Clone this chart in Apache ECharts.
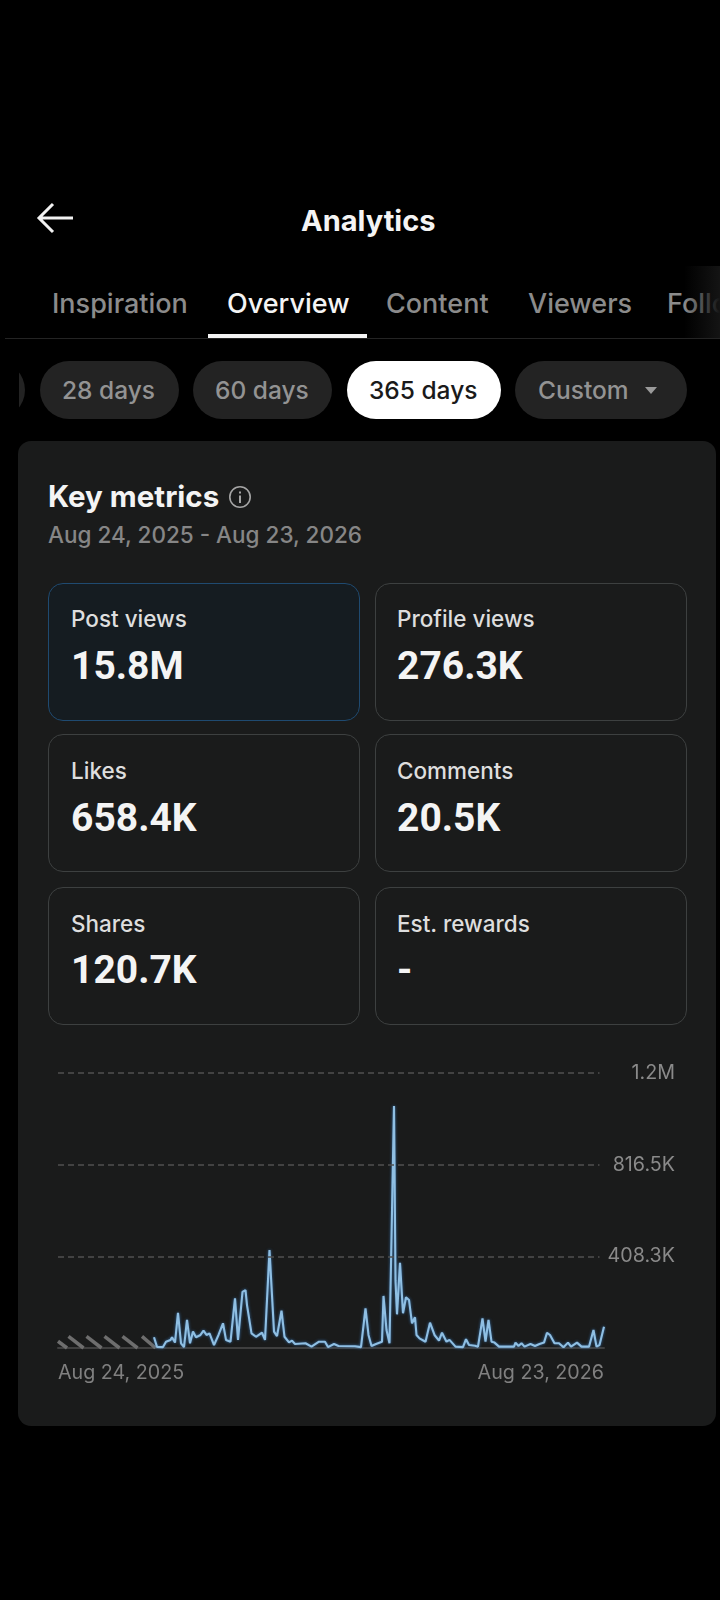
<!DOCTYPE html>
<html>
<head>
<meta charset="utf-8">
<title>Analytics</title>
<script src="https://cdn.jsdelivr.net/npm/echarts@6/dist/echarts.min.js"></script>
<style>
html, body { margin: 0; padding: 0; background: #000; }
#page { position: relative; width: 720px; height: 1600px; overflow: hidden; background: #000; font-family: Inter, Roboto, sans-serif; }
.t { position: absolute; white-space: nowrap; transform: translateY(-50%); line-height: 1; }
.box { position: absolute; box-sizing: border-box; }
.tab { font-size: 27px; font-weight: 500; color: #8b8b8b; top: 303px; }
.pill { top: 361px; height: 58px; border-radius: 29px; background: #232323; }
.ptxt { font-size: 24.5px; font-weight: 500; color: #939393; top: 390px; }
.mc { width: 312px; height: 138px; border: 1.7px solid #3d4040; border-radius: 15px; }
.ml { font-size: 22.5px; font-weight: 500; color: #dedede; }
.mv { font-family: Roboto, sans-serif; font-size: 39px; font-weight: 700; color: #f4f4f4; }
#chart { position: absolute; left: 0; top: 1040px; width: 720px; height: 360px; }
</style>
</head>
<body>
<div id="page">
  <svg class="box" style="left:36px;top:201px" width="40" height="34" viewBox="0 0 40 34">
    <path d="M37 17H3M17 3L3 17L17 31" fill="none" stroke="#f2f2f2" stroke-width="3"/>
  </svg>
  <div class="t" style="left:301px;top:220px;font-size:29px;font-weight:700;color:#f4f4f4">Analytics</div>

  <div class="t tab" style="left:52px">Inspiration</div>
  <div class="t tab" style="left:227px;color:#f4f4f4">Overview</div>
  <div class="t tab" style="left:386px">Content</div>
  <div class="t tab" style="left:528px">Viewers</div>
  <div class="t tab" style="left:667px">Follo</div>
  <div class="box" style="left:684px;top:266px;width:36px;height:72px;background:linear-gradient(90deg,rgba(20,20,20,0),#141414)"></div>
  <div class="box" style="left:5px;top:338px;width:715px;height:1px;background:#242424"></div>
  <div class="box" style="left:208px;top:334px;width:159px;height:4px;background:#f4f4f4"></div>

  <div class="box pill" style="left:-40px;width:65px"></div>
  <div class="box" style="left:0;top:361px;width:19px;height:58px;background:#000"></div>
  <div class="box pill" style="left:40px;width:139px"></div>
  <div class="box pill" style="left:193px;width:139px"></div>
  <div class="box pill" style="left:347px;width:154px;background:#fff"></div>
  <div class="box pill" style="left:515px;width:172px"></div>
  <div class="t ptxt" style="left:62px">28 days</div>
  <div class="t ptxt" style="left:215px">60 days</div>
  <div class="t ptxt" style="left:369px;color:#1a1a1a">365 days</div>
  <div class="t ptxt" style="left:538px">Custom</div>
  <svg class="box" style="left:645px;top:386px" width="12" height="9"><path d="M0 1H12L6 8Z" fill="#9a9a9a"/></svg>

  <div class="box" style="left:18px;top:441px;width:698px;height:985px;background:#1a1b1b;border-radius:13px"></div>
  <div class="t" style="left:48px;top:497px;font-size:29.5px;font-weight:700;color:#f4f4f4">Key metrics</div>
  <svg class="box" style="left:228px;top:485px" width="24" height="24" viewBox="0 0 24 24">
    <circle cx="12" cy="12" r="10.2" fill="none" stroke="#a5a5a5" stroke-width="1.6"/>
    <path d="M12 10.5V18M12 6.5V8.5" stroke="#a5a5a5" stroke-width="2" fill="none"/>
  </svg>
  <div class="t" style="left:48px;top:535px;font-size:22.5px;color:#868686;font-weight:500">Aug 24, 2025 - Aug 23, 2026</div>

  <div class="box mc" style="left:48px;top:583px;background:#151c21;border-color:#1f4a70"></div>
  <div class="box mc" style="left:374.5px;top:583px"></div>
  <div class="box mc" style="left:48px;top:734px"></div>
  <div class="box mc" style="left:374.5px;top:734px"></div>
  <div class="box mc" style="left:48px;top:887px"></div>
  <div class="box mc" style="left:374.5px;top:887px"></div>

  <div class="t ml" style="left:71px;top:619px">Post views</div>
  <div class="t mv" style="left:71px;top:666px">15.8M</div>
  <div class="t ml" style="left:397px;top:619px">Profile views</div>
  <div class="t mv" style="left:397px;top:666px">276.3K</div>
  <div class="t ml" style="left:71px;top:771px">Likes</div>
  <div class="t mv" style="left:71px;top:818px">658.4K</div>
  <div class="t ml" style="left:397px;top:771px">Comments</div>
  <div class="t mv" style="left:397px;top:818px">20.5K</div>
  <div class="t ml" style="left:71px;top:924px">Shares</div>
  <div class="t mv" style="left:71px;top:970px">120.7K</div>
  <div class="t ml" style="left:397px;top:924px">Est. rewards</div>
  <div class="t mv" style="left:397px;top:970px">-</div>

  <div id="chart"></div>
</div>
<script>
// day number in the 365 day window, and views that day (thousands)
var days = [64,66,70,72,75,76,78,80,82,84,86,87,88,90,92,95,97,99,101,104,107,110,112,115,118,120,123,125,126,127,129,132,136,138,141,
    144,146,149,151,154,156,158,165,169,174,178,180,184,187,198,202,205,207,209,212,216,217,219,221,224,225,226,228,230,232,234,236,238,239,241,245,
    248,251,254,256,259,261,265,270,272,274,278,280,283,285,287,289,291,294,304,305,307,309,311,315,318,321,324,326,328,331,334,337,340,342,346,349,354,355,357,359,361,364];
var views = [48,5,4,28,36,48,24,157,21,4,125,128,21,73,48,58,77,58,65,13,58,110,36,28,221,36,250,258,191,196,65,50,68,36,436,
    73,53,166,50,25,33,18,21,6,28,28,4,18,9,8,4,177,58,9,18,28,232,80,21,1078,300,150,379,155,226,214,110,137,58,43,28,
    113,58,33,68,28,36,6,4,39,13,10,6,132,28,125,28,24,6,6,24,9,21,6,18,9,18,24,68,58,21,21,3,24,6,24,6,6,13,80,6,13,95];
// hatched stretch before the data starts: from day, to day, height (thousands)
var hatchFrom = [0,7,19,31,43,56];
var hatchTo = [6,17,29,41,53,65];
var hatchTop = [30,52,52,52,52,52];
var yTicks = ['', '408.3K', '816.5K', '1.2M'];
var yLevels = [408.3, 816.5, 1224.8];
var xLabels = {0: 'Aug 24, 2025', 364: 'Aug 23, 2026'};

var chart = echarts.init(document.getElementById('chart'));

var linePoints = [];
for (var i = 0; i < days.length; i++) linePoints.push([days[i], views[i]]);
var hatchData = [];
for (var j = 0; j < hatchFrom.length; j++) hatchData.push([hatchFrom[j], hatchTo[j], hatchTop[j]]);
var gridLines = [];
for (var k = 0; k < yLevels.length; k++) gridLines.push([{coord: [0, yLevels[k]]}, {coord: [361, yLevels[k]]}]);

var option = {
    animation: false,
    backgroundColor: 'transparent',
    grid: {left: 58, top: 33, width: 546, height: 275},
    xAxis: {
        type: 'value',
        min: 0,
        max: 364,
        splitLine: {show: false},
        axisTick: {show: false},
        axisLine: {show: true, onZero: true, lineStyle: {color: '#3f3f3f', width: 2}},
        axisLabel: {
            customValues: [0, 364],
            alignMinLabel: 'left',
            alignMaxLabel: 'right',
            margin: 15,
            color: '#808080',
            fontFamily: 'Inter',
            fontSize: 19.7,
            formatter: function (v) { return xLabels[v] || ''; }
        }
    },
    yAxis: {
        type: 'value',
        position: 'right',
        min: 0,
        max: 1224.8,
        interval: 1224.8 / 3,
        splitLine: {show: false},
        axisLine: {show: false},
        axisTick: {show: false},
        axisLabel: {
            margin: 71,
            align: 'right',
            color: '#8a8a8a',
            fontFamily: 'Inter',
            fontSize: 19.7,
            formatter: function (v, idx) { return yTicks[idx]; }
        }
    },
    series: [
        {
            type: 'custom',
            silent: true,
            z: 2,
            data: hatchData,
            encode: {x: [0, 1], y: 2},
            renderItem: function (params, api) {
                var a = api.coord([api.value(0), api.value(2)]);
                var b = api.coord([api.value(1), 0]);
                return {
                    type: 'line',
                    shape: {x1: a[0], y1: a[1], x2: b[0], y2: b[1]},
                    style: {stroke: '#6e6e6e', lineWidth: 3.5}
                };
            }
        },
        {
            type: 'line',
            z: 3,
            data: linePoints,
            showSymbol: false,
            clip: false,
            lineStyle: {color: '#8fbfe3', width: 2.1, shadowColor: 'rgba(60,130,200,0.8)', shadowBlur: 3},
            markLine: {
                silent: true,
                symbol: 'none',
                label: {show: false},
                lineStyle: {color: '#505050', type: [6, 4], width: 1.5},
                data: gridLines
            }
        }
    ]
};
chart.setOption(option);
</script>
</body>
</html>
